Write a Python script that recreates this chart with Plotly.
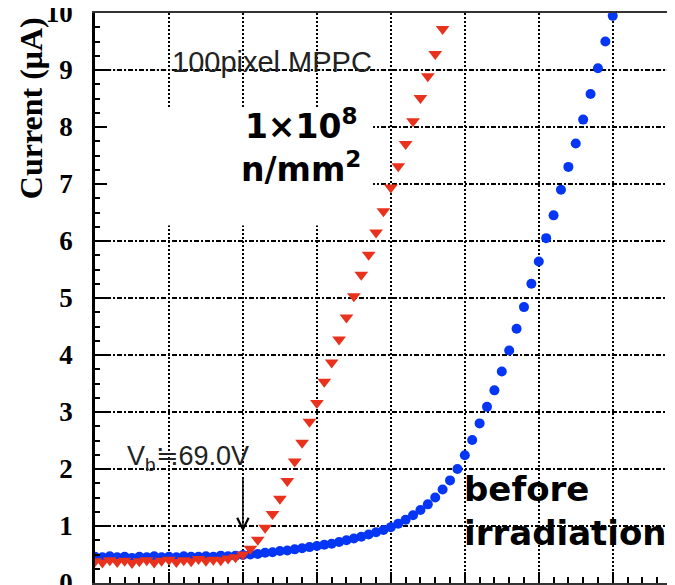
import numpy as np
import plotly.graph_objects as go

# bias voltage scan (V), 0.1 V steps
v_before = np.round(np.arange(67.0, 74.05, 0.1), 1)
v_irr = np.round(np.arange(67.0, 71.75, 0.1), 1)

# current (uA), before irradiation
i_before = [
    0.46, 0.45, 0.47, 0.45, 0.46, 0.44, 0.46, 0.45, 0.47, 0.45,
    0.46, 0.45, 0.47, 0.46, 0.46, 0.47, 0.46, 0.48, 0.47, 0.48,
    0.49, 0.50, 0.51, 0.53, 0.54, 0.56, 0.57, 0.59, 0.61, 0.63,
    0.65, 0.67, 0.69, 0.72, 0.75, 0.78, 0.81, 0.85, 0.89, 0.93,
    0.98, 1.04, 1.11, 1.19, 1.28, 1.38, 1.50, 1.64, 1.80, 2.00,
    2.24, 2.51, 2.80, 3.09, 3.38, 3.71, 4.08, 4.46, 4.84, 5.25,
    5.64, 6.05, 6.45, 6.90, 7.30, 7.71, 8.13, 8.58, 9.03, 9.50,
    9.95,
]

# current (uA), after 1e8 n/mm2
i_irr = [
    0.38, 0.36, 0.40, 0.37, 0.39, 0.35, 0.38, 0.40, 0.36, 0.39,
    0.41, 0.37, 0.40, 0.38, 0.42, 0.39, 0.41, 0.40, 0.43, 0.45,
    0.50, 0.60, 0.76, 0.97, 1.21, 1.48, 1.79, 2.13, 2.46, 2.83,
    3.16, 3.53, 3.87, 4.27, 4.66, 5.03, 5.41, 5.76, 6.15, 6.52,
    6.94, 7.31, 7.70, 8.10, 8.51, 8.89, 9.28, 9.72,
]

vb = 69.0

fig = go.Figure()
fig.add_trace(go.Scatter(
    x=v_before, y=i_before, mode="markers", name="before irradiation",
    marker=dict(symbol="circle", size=10, color="#0536f5"),
))
fig.add_trace(go.Scatter(
    x=v_irr, y=i_irr, mode="markers", name="1e8 n/mm2",
    marker=dict(symbol="triangle-down", size=12, color="#e8321e"),
))

# white box behind the fluence label, and the pale line at 9 uA
fig.add_shape(type="rect", layer="between", x0=67.15, x1=70.76,
              y0=6.27, y1=8.35, line_width=0, fillcolor="white")
fig.add_shape(type="line", layer="between", xref="paper", x0=0, x1=1, y0=9, y1=9,
              line=dict(color="white", width=3))
fig.add_shape(type="line", layer="between", xref="paper", x0=0, x1=1, y0=9, y1=9,
              line=dict(color="#bbbbbb", width=1.2, dash="2px,3px"))

sans = "Liberation Sans, Arial, sans-serif"
bold = "DejaVu Sans, Verdana, sans-serif"
serif = "Liberation Serif, Times New Roman, serif"

fig.add_annotation(x=68.02, y=9.14, xanchor="left", showarrow=False,
                   text="100pixel MPPC", font=dict(family=sans, size=29, color="#222"))
fig.add_annotation(x=69.78, y=7.66, showarrow=False,
                   text="1×10<sup>8</sup><br>n/mm<sup>2</sup>",
                   font=dict(family=bold, size=33, color="black", weight="bold"))
fig.add_annotation(x=71.96, y=1.26, xanchor="left", align="left", showarrow=False,
                   text="before<br>irradiation",
                   font=dict(family=bold, size=34, color="black", weight="bold"))
fig.add_annotation(x=67.40, y=2.19, xanchor="left", showarrow=False,
                   text="V<sub>b</sub>≒69.0V", font=dict(family=sans, size=27, color="#222"))
fig.add_annotation(x=vb, y=0.9, ax=0, ay=-55, text="", showarrow=True,
                   arrowhead=5, arrowsize=1.6, arrowwidth=1.4, arrowcolor="black")

# y axis title, sits up near the top
fig.add_annotation(xref="paper", yref="paper", x=0, y=0.833, xshift=-64,
                   xanchor="center", yanchor="middle",
                   text="Current (μA)", textangle=-90, showarrow=False,
                   font=dict(family=serif, size=32, color="black", weight="bold"))

fig.update_xaxes(
    range=[67.0, 74.95], showticklabels=False, automargin=False,
    dtick=1, ticks="inside", ticklen=11, tickwidth=1.5, tickcolor="black",
    minor=dict(dtick=0.2, ticks="inside", ticklen=6, tickcolor="black", showgrid=False),
    showgrid=True, gridcolor="black", gridwidth=2, griddash="2px,2px",
    showline=True, linecolor="#333", linewidth=2, mirror=True, zeroline=False,
)
fig.update_yaxes(
    range=[0, 10], dtick=1, ticks="inside", ticklen=12, tickwidth=2, tickcolor="black",
    automargin=False, ticklabeloverflow="allow",
    minor=dict(dtick=0.25, ticks="inside", ticklen=5, tickcolor="black", showgrid=False),
    showgrid=True, gridcolor="black", gridwidth=2, griddash="5px,2px,2px,2px",
    showline=True, linecolor="black", linewidth=2.5, zeroline=False,
    tickfont=dict(family=serif, size=27, color="black", weight="bold"),
    ticklabelstandoff=14,
)
# page body adds an 8px offset, so margins are trimmed by that much;
# the frame runs off the right edge like in the original
fig.update_layout(
    width=675, height=585, showlegend=False,
    paper_bgcolor="white", plot_bgcolor="white",
    margin=dict(l=87, r=0, t=5, b=10),
)

fig.write_html("out.html")
